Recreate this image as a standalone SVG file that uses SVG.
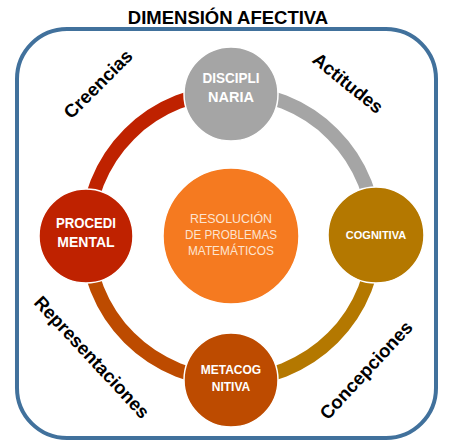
<svg xmlns="http://www.w3.org/2000/svg" width="457" height="448" viewBox="0 0 457 448">
<style>
.title{font-family:"Liberation Sans",Arial,sans-serif;font-weight:bold;font-size:18.5px;fill:#000;text-anchor:middle}
.lbl{font-family:"Liberation Sans",Arial,sans-serif;font-weight:bold;font-size:18.5px;fill:#000;text-anchor:middle}
.node circle{stroke:#fff;stroke-width:1.5}
.nt{font-family:"Liberation Sans",Arial,sans-serif;font-weight:bold;fill:#fff;text-anchor:middle}
.ct{font-family:"Liberation Sans",Arial,sans-serif;font-size:13.5px;fill:#FDE4D0;text-anchor:middle}
.arc{fill:none;stroke-width:14}
</style>
<rect x="17" y="29" width="419" height="409" rx="50" ry="50" fill="#fff" stroke="#41719C" stroke-width="4"/>
<text class="title" x="228" y="24">DIMENSIÓN AFECTIVA</text>
<g id="connectors">
<path class="arc" stroke="#BF2200" d="M87 236 A144 144 0 0 1 231 92"/>
<path class="arc" stroke="#A5A5A5" d="M231 92 A144 144 0 0 1 375 236"/>
<path class="arc" stroke="#B47800" d="M375 236 A144 144 0 0 1 231 380"/>
<path class="arc" stroke="#BD4B00" d="M231 380 A144 144 0 0 1 87 236"/>
</g>
<text class="lbl" transform="translate(98 84) rotate(-45)" dy="0.35em">Creencias</text>
<text class="lbl" transform="translate(348 83) rotate(39)" dy="0.35em">Actitudes</text>
<text class="lbl" transform="translate(92 357) rotate(47)" dy="0.35em">Representaciones</text>
<text class="lbl" transform="translate(366 370) rotate(-47)" dy="0.35em">Concepciones</text>
<g id="center" class="node">
<circle cx="231" cy="236" r="68" fill="#F57A20" stroke="none"/>
<text class="ct" x="231" y="223" textLength="82" lengthAdjust="spacingAndGlyphs">RESOLUCIÓN</text>
<text class="ct" x="231" y="239" textLength="92" lengthAdjust="spacingAndGlyphs">DE PROBLEMAS</text>
<text class="ct" x="231" y="255" textLength="86" lengthAdjust="spacingAndGlyphs">MATEMÁTICOS</text>
</g>
<g id="disciplinaria" class="node">
<circle cx="231" cy="94" r="47" fill="#A5A5A5"/>
<text class="nt" x="231" y="83" font-size="14.5" textLength="57" lengthAdjust="spacingAndGlyphs">DISCIPLI</text>
<text class="nt" x="231" y="102" font-size="14.5">NARIA</text>
</g>
<g id="cognitiva" class="node">
<circle cx="376" cy="235" r="48" fill="#B47800"/>
<text class="nt" x="376" y="239" font-size="11">COGNITIVA</text>
</g>
<g id="metacognitiva" class="node">
<circle cx="231" cy="380" r="47" fill="#BD4B00"/>
<text class="nt" x="231" y="374" font-size="12">METACOG</text>
<text class="nt" x="231" y="391" font-size="12">NITIVA</text>
</g>
<g id="procedimental" class="node">
<circle cx="86" cy="236" r="47" fill="#BF2200"/>
<text class="nt" x="86" y="228" font-size="14" textLength="60" lengthAdjust="spacingAndGlyphs">PROCEDI</text>
<text class="nt" x="86" y="247" font-size="14">MENTAL</text>
</g>
</svg>
